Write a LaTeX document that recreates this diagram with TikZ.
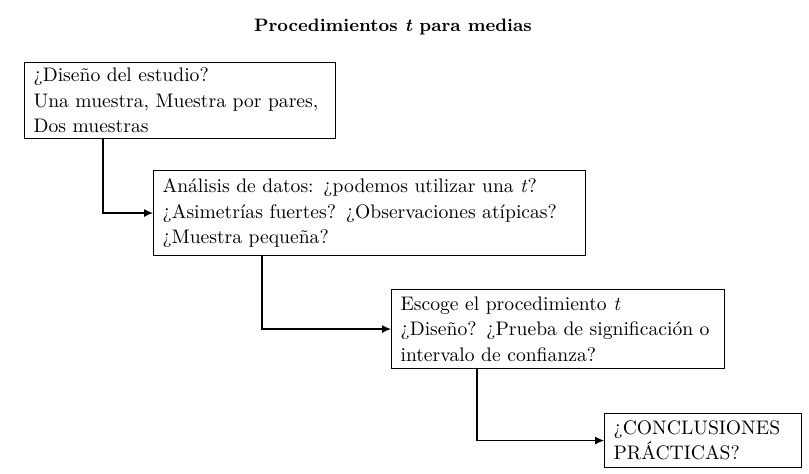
\documentclass[tikz,border=0pt]{standalone}
\usepackage{tikz}
\usetikzlibrary{arrows.meta}

\begin{document}
\begin{tikzpicture}[x=0.5pt,y=-0.5pt,line width=0.55pt,>={Latex[length=4.5pt,width=4pt]},
  caja/.style={draw,anchor=north west,align=left,inner xsep=4.5pt,inner ysep=0pt,
    font=\fontsize{9.8}{12.7}\selectfont}]
  \useasboundingbox (0,0) rectangle (809,474);
  % titulo
  \node[font=\fontsize{9}{11}\selectfont\bfseries] (titulo) at (393,27) {Procedimientos \textit{t} para medias};
  % cajas
  \node[caja,text width=146.5pt,minimum height=38pt] (diseno) at (24,62)
    {¿Diseño del estudio?\\Una muestra, Muestra por pares,\\Dos muestras};
  \node[caja,text width=207pt,minimum height=42.5pt] (analisis) at (153,170)
    {Análisis de datos: ¿podemos utilizar una \textit{t}?\\¿Asimetrías fuertes? ¿Observaciones atípicas?\\¿Muestra pequeña?};
  \node[caja,text width=157.5pt,minimum height=39.5pt] (escoge) at (391,289)
    {Escoge el procedimiento \textit{t}\\¿Diseño? ¿Prueba de significación o\\intervalo de confianza?};
  \node[caja,text width=89.5pt,minimum height=27pt] (conclusiones) at (604,413)
    {¿CONCLUSIONES\\PRÁCTICAS?};
  % flechas
  \draw[->] ([xshift=39.5pt]diseno.south west) |- (analisis.west);
  \draw[->] ([xshift=54.5pt]analisis.south west) |- (escoge.west);
  \draw[->] ([xshift=43pt]escoge.south west) |- (conclusiones.west);
\end{tikzpicture}
\end{document}
